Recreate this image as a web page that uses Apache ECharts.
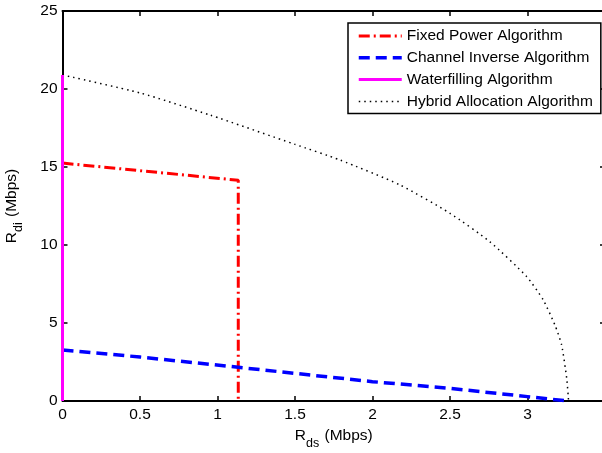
<!DOCTYPE html>
<html>
<head>
<meta charset="utf-8">
<script src="https://cdn.jsdelivr.net/npm/echarts@6/dist/echarts.min.js"></script>
<style>
html,body{margin:0;padding:0;background:#fff;}
#chart{width:602px;height:453px;}
</style>
</head>
<body>
<div id="chart"></div>
<script>
// ---- data ----
var seriesNames = ['Fixed Power Algorithm', 'Channel Inverse Algorithm', 'Waterfilling Algorithm', 'Hybrid Allocation Algorithm'];
var fixedX = [0, 1.134, 1.134];
var fixedY = [15.25, 14.15, 0];
var channelX = [0, 0.5, 1.134, 2.0, 2.5, 3.0, 3.26];
var channelY = [3.27, 2.82, 2.16, 1.24, 0.81, 0.28, 0];
var waterX = [0, 0];
var waterY = [0, 20.9];
var hybridX = [0, 0.5, 0.952, 1.5, 1.79, 2.177, 2.5, 2.758, 2.995, 3.1, 3.177, 3.22, 3.253, 3.265];
var hybridY = [20.9, 19.75, 18.33, 16.45, 15.45, 13.85, 12.03, 10.2, 7.97, 6.5, 4.87, 3.6, 1.45, 0];
var xTicks = [0, 0.5, 1, 1.5, 2, 2.5, 3, 3.5];
var yTicks = [0, 5, 10, 15, 20, 25];

function pairs(xs, ys) { return xs.map(function (x, i) { return [x, ys[i]]; }); }

var FONT = 'Liberation Sans, Arial, Helvetica, sans-serif';
var axisLine = { show: true, onZero: false, lineStyle: { color: '#000', width: 2 } };
var tick = { show: true, inside: true, length: 5, lineStyle: { color: '#000', width: 1.5 } };
var nameRich = {
  a: { fontFamily: FONT, fontSize: 15.5, color: '#000', lineHeight: 18, verticalAlign: 'top' },
  s: { fontFamily: FONT, fontSize: 12.5, color: '#000', lineHeight: 12, verticalAlign: 'top', padding: [9, 1, 0, 0] }
};

var chart = echarts.init(document.getElementById('chart'), null, { renderer: 'canvas' });
chart.setOption({
  animation: false,
  backgroundColor: '#fff',
  grid: { left: 62.5, top: 11, right: -3, bottom: 52, containLabel: false, outerBoundsMode: 'none' },
  legend: {
    orient: 'vertical',
    left: 348, top: 23,
    padding: [5, 8, 4, 9],
    itemWidth: 43, itemHeight: 14, itemGap: 5.8,
    borderColor: '#000', borderWidth: 1.5,
    backgroundColor: '#fff',
    itemStyle: { opacity: 0 },
    lineStyle: { width: 'inherit' },
    textStyle: { fontFamily: FONT, fontSize: 15.5, color: '#000' },
    data: seriesNames
  },
  xAxis: [{
    type: 'value', min: xTicks[0], max: xTicks[xTicks.length - 1], interval: 0.5,
    position: 'bottom',
    axisLine: axisLine, axisTick: tick, splitLine: { show: false },
    axisLabel: {
      color: '#000', fontFamily: FONT, fontSize: 15.5, margin: 6,
      formatter: function (v) { return v >= 3.5 ? '' : String(v); }
    },
    name: '{a|R}{s|ds}{a| (Mbps)}',
    nameLocation: 'middle', nameGap: 21,
    nameTextStyle: { rich: nameRich }
  }, {
    type: 'value', min: xTicks[0], max: xTicks[xTicks.length - 1], interval: 0.5,
    position: 'top',
    axisLine: axisLine, axisTick: tick, splitLine: { show: false },
    axisLabel: { show: false }
  }],
  yAxis: [{
    type: 'value', min: yTicks[0], max: yTicks[yTicks.length - 1], interval: 5,
    position: 'left',
    axisLine: axisLine, axisTick: tick, splitLine: { show: false },
    axisLabel: { color: '#000', fontFamily: FONT, fontSize: 15.5, margin: 5 },
    name: '{a|R}{s|di}{a| (Mbps)}',
    nameLocation: 'middle', nameGap: 41, nameRotate: 90,
    nameTextStyle: { rich: nameRich }
  }, {
    type: 'value', min: yTicks[0], max: yTicks[yTicks.length - 1], interval: 5,
    position: 'right',
    axisLine: axisLine, axisTick: tick, splitLine: { show: false },
    axisLabel: { show: false }
  }],
  series: [{
    name: seriesNames[0], type: 'line', data: pairs(fixedX, fixedY), symbol: 'none', z: 5,
    lineStyle: { color: '#ff0000', width: 3, type: [11, 4, 2, 4] }, itemStyle: { color: '#ff0000' }
  }, {
    name: seriesNames[1], type: 'line', data: pairs(channelX, channelY), symbol: 'none', z: 5,
    lineStyle: { color: '#0000ff', width: 3.5, type: [11, 6] }, itemStyle: { color: '#0000ff' }
  }, {
    name: seriesNames[2], type: 'line', data: pairs(waterX, waterY), symbol: 'none', z: 6,
    lineStyle: { color: '#ff00ff', width: 3, type: 'solid' }, itemStyle: { color: '#ff00ff' }
  }, {
    name: seriesNames[3], type: 'line', data: pairs(hybridX, hybridY), symbol: 'none', z: 5, smooth: 0.2,
    lineStyle: { color: '#000', width: 1.5, type: [1.5, 4] }, itemStyle: { color: '#000' }
  }]
});
</script>
</body>
</html>
